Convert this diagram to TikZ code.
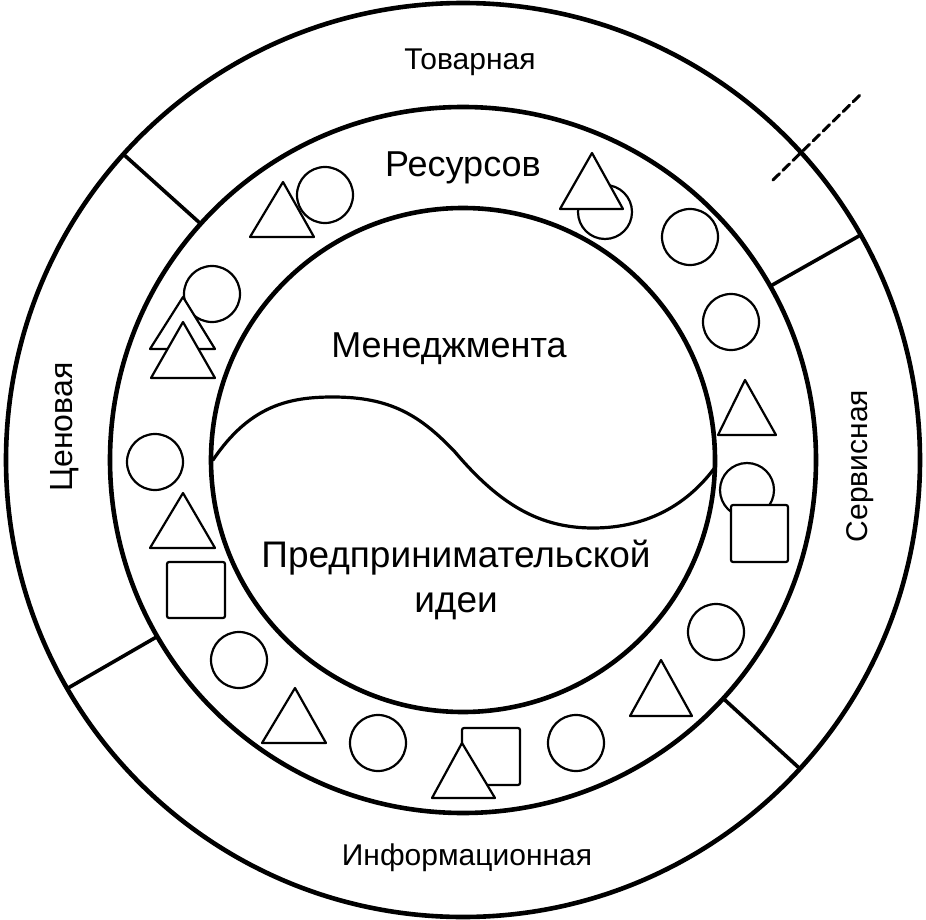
\documentclass[tikz,border=0pt]{standalone}
\usepackage{fontspec}
\setmainfont{Liberation Sans}

\begin{document}
\begin{tikzpicture}[x=1pt,y=1pt,line cap=round,line join=round,
  ring/.style={line width=4.6pt},
  wall/.style={line width=3.6pt},
  fig/.style={line width=2.2pt,fill=white},
  lbl/.style={font=\fontsize{30}{36}\selectfont},
  biglbl/.style={font=\fontsize{36}{45}\selectfont}]
\useasboundingbox (0,0) rectangle (926,-920);
\coordinate (O) at (463,-460);
% three rings
\draw[ring] (O) circle (457);
\draw[ring] (O) circle (353);
\draw[ring] (O) circle (252);
% dividers of the outer ring
\coordinate (d1a) at ([shift={(138:353)}]O);
\coordinate (d1b) at ([shift={(138:457)}]O);
\coordinate (d2a) at ([shift={(29.5:353)}]O);
\coordinate (d2b) at ([shift={(29.5:457)}]O);
\coordinate (d3a) at ([shift={(210:353)}]O);
\coordinate (d3b) at ([shift={(210:457)}]O);
\coordinate (d4a) at ([shift={(317.5:353)}]O);
\coordinate (d4b) at ([shift={(317.5:457)}]O);
\draw[wall] (d1a) -- (d1b);
\draw[wall] (d2a) -- (d2b);
\draw[wall] (d3a) -- (d3b);
\draw[wall] (d4a) -- (d4b);
\coordinate (m1) at (773,-180);
\coordinate (m2) at (860,-95);
\draw[line width=3pt,dash pattern=on 9pt off 5pt] (m1) -- (m2);
% the wave
\coordinate (w1) at (213,-460);
\coordinate (w2) at (333,-397);
\coordinate (w3) at (455,-452);
\coordinate (w4) at (593,-528);
\coordinate (w5) at (716,-466);
\draw[line width=3.2pt] (w1) .. controls (250,-405) and (290,-397) .. (w2)
  .. controls (390,-397) and (420,-415) .. (w3)
  .. controls (500,-505) and (540,-528) .. (w4)
  .. controls (650,-528) and (690,-502) .. (w5);
% figures in the middle ring
\draw[fig] (325,-195) circle (28);
\draw[fig] (283,-182) -- (250,-237) -- (314,-237) -- cycle;
\draw[fig] (212,-294) circle (28);
\draw[fig] (183,-297) -- (150,-349) -- (215,-349) -- cycle;
\draw[fig] (183,-322) -- (151,-378) -- (215,-378) -- cycle;
\draw[fig] (155,-462) circle (28);
\draw[fig] (183,-493) -- (150,-548) -- (215,-548) -- cycle;
\draw[fig,rounded corners=2pt] (167,-562) rectangle (225,-618);
\draw[fig] (239,-660) circle (28);
\draw[fig] (295,-688) -- (262,-743) -- (326,-743) -- cycle;
\draw[fig] (378,-743) circle (28);
\draw[fig,rounded corners=2pt] (462,-728) rectangle (520,-785);
\draw[fig] (462,-743) -- (432,-798) -- (495,-798) -- cycle;
\draw[fig] (576,-743) circle (28);
\draw[fig] (661,-660) -- (630,-716) -- (692,-716) -- cycle;
\draw[fig] (716,-632) circle (28);
\draw[fig] (747,-490) circle (27);
\draw[fig,rounded corners=2pt] (731,-505) rectangle (788,-562);
\draw[fig] (745,-380) -- (718,-435) -- (776,-435) -- cycle;
\draw[fig] (731,-322) circle (28);
\draw[fig] (690,-237) circle (28);
\draw[fig] (605,-212) circle (27);
\draw[fig] (592,-153) -- (560,-209) -- (623,-209) -- cycle;
% labels
\node[lbl,anchor=base] (tovar) at (470,-70) {Товарная};
\node[biglbl,anchor=base] (res) at (463,-177) {Ресурсов};
\node[biglbl,anchor=base] (men) at (449,-357) {Менеджмента};
\node[biglbl,anchor=base,align=center,font=\fontsize{37}{45}\selectfont] (idea) at (456,-612) {Предпринимательской\\идеи};
\node[lbl,anchor=base] (info) at (467,-865) {Информационная};
\node[lbl,font=\fontsize{32}{38}\selectfont,rotate=90] (price) at (65,-427) {Ценовая};
\node[lbl,rotate=90] (serv) at (860,-466) {Сервисная};
\end{tikzpicture}
\end{document}
